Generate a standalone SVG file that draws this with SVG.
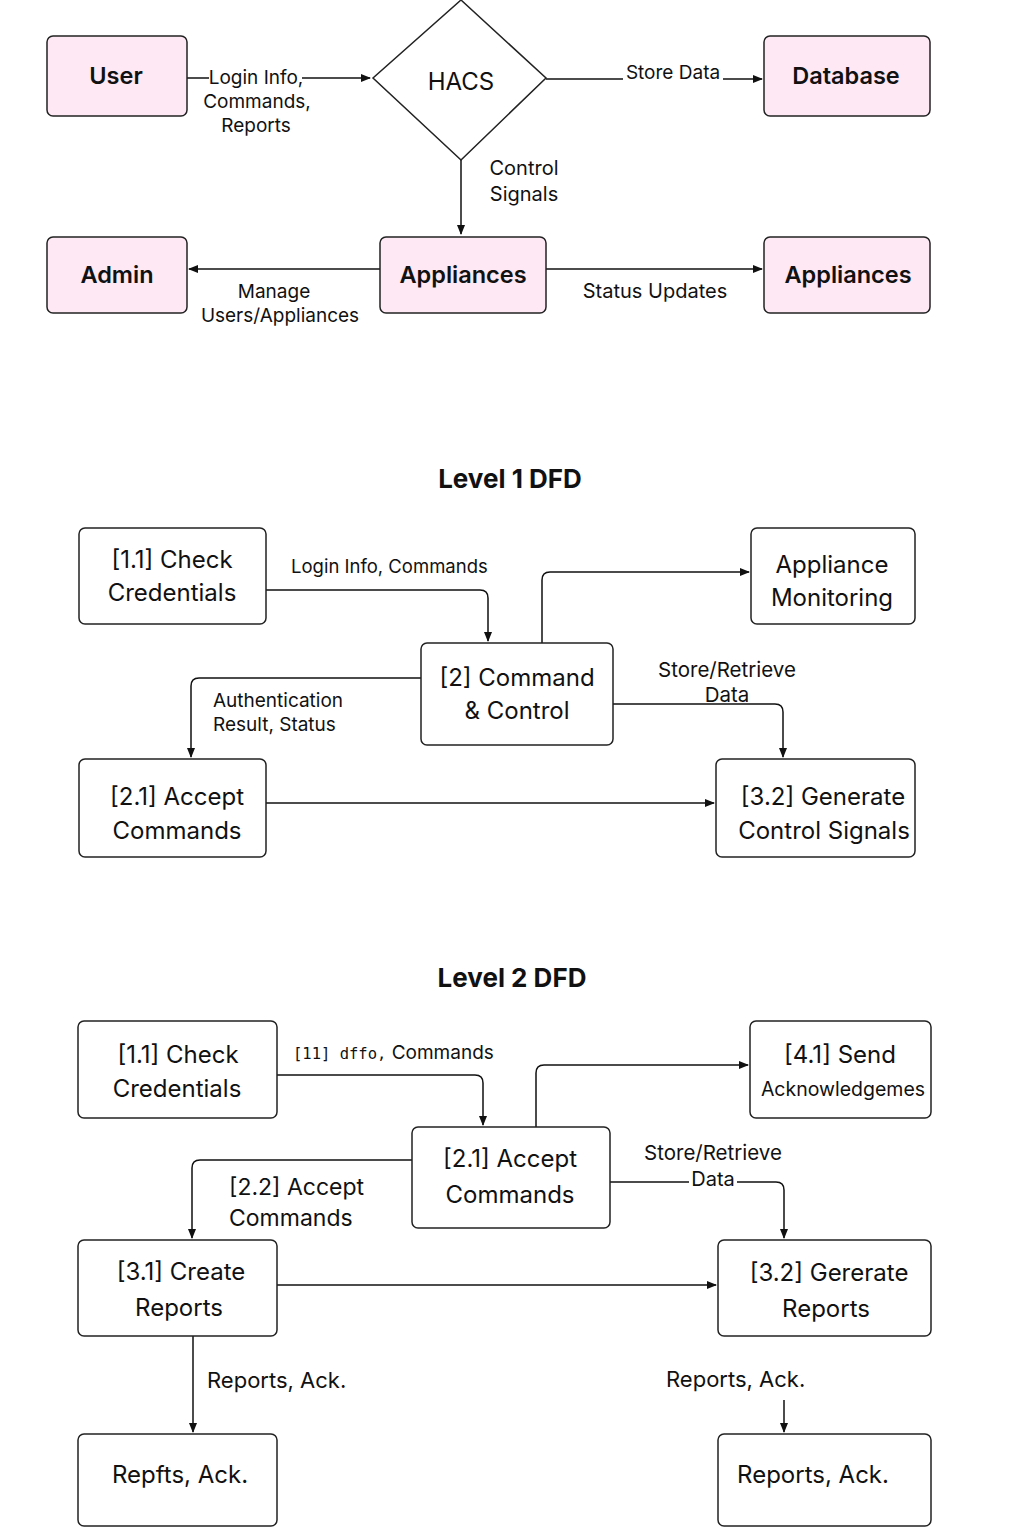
<svg xmlns="http://www.w3.org/2000/svg" width="1024" height="1536" viewBox="0 0 1024 1536">
<defs>
<marker id="arr" viewBox="0 0 10 10" refX="9" refY="5" markerWidth="10" markerHeight="10" markerUnits="userSpaceOnUse" orient="auto">
<path d="M0,1 L10,5 L0,9 Z" fill="#111"/>
</marker>
<style>
.ext{fill:#fde8f3;stroke:#222;stroke-width:1.5}
.proc{fill:#fff;stroke:#222;stroke-width:1.5}
.dia{fill:#fff;stroke:#222;stroke-width:1.5}
.e{fill:none;stroke:#111;stroke-width:1.5}
text{font-family:Inter,"Noto Sans","Liberation Sans",sans-serif;fill:#111}
.nb{font-size:23.5px;font-weight:600;text-anchor:middle}
.nt{font-size:24px;text-anchor:middle}
.lb{font-size:19px}
.lc{font-size:19px;text-anchor:middle}
.mono{font-family:"DejaVu Sans Mono","Liberation Mono",monospace;font-size:15.5px}
.title{font-size:26px;font-weight:700;text-anchor:middle}
.bg{fill:#fff}
</style>
</defs>
<rect width="1024" height="1536" fill="#fff"/>

<g id="connectors">
<line class="e" x1="187" y1="78" x2="370" y2="78" marker-end="url(#arr)"/>
<line class="e" x1="546" y1="79" x2="762" y2="79" marker-end="url(#arr)"/>
<line class="e" x1="461" y1="160" x2="461" y2="234" marker-end="url(#arr)"/>
<line class="e" x1="380" y1="269" x2="189" y2="269" marker-end="url(#arr)"/>
<line class="e" x1="546" y1="269" x2="762" y2="269" marker-end="url(#arr)"/>
<path class="e" d="M266,590 H480 Q488,590 488,598 V641" marker-end="url(#arr)"/>
<path class="e" d="M542,643 V580 Q542,572 550,572 H749" marker-end="url(#arr)"/>
<path class="e" d="M421,678 H199 Q191,678 191,686 V757" marker-end="url(#arr)"/>
<path class="e" d="M613,704 H775 Q783,704 783,712 V757" marker-end="url(#arr)"/>
<line class="e" x1="266" y1="803" x2="714" y2="803" marker-end="url(#arr)"/>
<path class="e" d="M277,1075 H475 Q483,1075 483,1083 V1125" marker-end="url(#arr)"/>
<path class="e" d="M536,1127 V1073 Q536,1065 544,1065 H748" marker-end="url(#arr)"/>
<path class="e" d="M412,1160 H200 Q192,1160 192,1168 V1238" marker-end="url(#arr)"/>
<path class="e" d="M610,1182 H776 Q784,1182 784,1190 V1238" marker-end="url(#arr)"/>
<line class="e" x1="277" y1="1285" x2="716" y2="1285" marker-end="url(#arr)"/>
<line class="e" x1="193" y1="1336" x2="193" y2="1432" marker-end="url(#arr)"/>
<line class="e" x1="784" y1="1400" x2="784" y2="1432" marker-end="url(#arr)"/>

<rect class="bg" x="209" y="68" width="93" height="20"/>
<text class="lc" x="256" y="84">Login Info,</text>
<text class="lc" x="257" y="108">Commands,</text>
<text class="lc" x="256" y="132">Reports</text>
<rect class="bg" x="623" y="62" width="100" height="20"/>
<text class="lc" x="673" y="79">Store Data</text>
<text class="lc" x="524" y="175" style="font-size:20px">Control</text>
<text class="lc" x="524" y="201" style="font-size:20px">Signals</text>
<text class="lc" x="274" y="298">Manage</text>
<text class="lc" x="280" y="322">Users/Appliances</text>
<text class="lc" x="655" y="298" style="font-size:20px">Status Updates</text>

<text class="lb" x="291" y="573" style="font-size:18.5px">Login Info, Commands</text>
<text class="lb" x="213" y="707">Authentication</text>
<text class="lb" x="213" y="731">Result, Status</text>
<text class="lc" x="727" y="677" style="font-size:20.5px">Store/Retrieve</text>
<text class="lc" x="727" y="702" style="font-size:20.5px">Data</text>

<text class="lb" x="293" y="1059"><tspan class="mono">[11] dffo,</tspan><tspan style="font-size:19px"> Commands</tspan></text>
<text class="lb" x="229" y="1195" style="font-size:23px">[2.2] Accept</text>
<text class="lb" x="229" y="1226" style="font-size:23px">Commands</text>
<text class="lc" x="713" y="1160" style="font-size:20.5px">Store/Retrieve</text>
<rect class="bg" x="689" y="1172" width="48" height="18"/>
<text class="lc" x="713" y="1186" style="font-size:20px">Data</text>
<text class="lb" x="207" y="1388" style="font-size:22px">Reports, Ack.</text>
<text class="lb" x="666" y="1387" style="font-size:22px">Reports, Ack.</text>
</g>

<g id="user"><rect class="ext" x="47" y="36" width="140" height="80" rx="6"/><text class="nb" x="116" y="84">User</text></g>
<g id="hacs"><polygon class="dia" points="461,0 546,78 461,160 373,78"/><text class="nt" x="461" y="90">HACS</text></g>
<g id="database"><rect class="ext" x="764" y="36" width="166" height="80" rx="6"/><text class="nb" x="846" y="84">Database</text></g>
<g id="admin"><rect class="ext" x="47" y="237" width="140" height="76" rx="6"/><text class="nb" x="117" y="283">Admin</text></g>
<g id="appliances1"><rect class="ext" x="380" y="237" width="166" height="76" rx="6"/><text class="nb" x="463" y="283">Appliances</text></g>
<g id="appliances2"><rect class="ext" x="764" y="237" width="166" height="76" rx="6"/><text class="nb" x="848" y="283">Appliances</text></g>

<text class="title" x="510" y="488">Level 1 DFD</text>

<g id="l1-check"><rect class="proc" x="79" y="528" width="187" height="96" rx="6"/><text class="nt" x="172" y="568">[1.1] Check</text><text class="nt" x="172" y="601">Credentials</text></g>
<g id="l1-monitor"><rect class="proc" x="751" y="528" width="164" height="96" rx="6"/><text class="nt" x="832" y="573">Appliance</text><text class="nt" x="832" y="606">Monitoring</text></g>
<g id="l1-cc"><rect class="proc" x="421" y="643" width="192" height="102" rx="6"/><text class="nt" x="517" y="686">[2] Command</text><text class="nt" x="517" y="719">&amp; Control</text></g>
<g id="l1-accept"><rect class="proc" x="79" y="759" width="187" height="98" rx="6"/><text class="nt" x="177" y="805">[2.1] Accept</text><text class="nt" x="177" y="839">Commands</text></g>
<g id="l1-generate"><rect class="proc" x="716" y="759" width="199" height="98" rx="6"/><text class="nt" x="823" y="805">[3.2] Generate</text><text class="nt" x="824" y="839">Control Signals</text></g>

<text class="title" x="512" y="987">Level 2 DFD</text>

<g id="l2-check"><rect class="proc" x="78" y="1021" width="199" height="97" rx="6"/><text class="nt" x="178" y="1063">[1.1] Check</text><text class="nt" x="177" y="1097">Credentials</text></g>
<g id="l2-send"><rect class="proc" x="750" y="1021" width="181" height="97" rx="6"/><text class="nt" x="840" y="1063">[4.1] Send</text><text class="nt" x="843" y="1096" style="font-size:19.5px">Acknowledgemes</text></g>
<g id="l2-accept"><rect class="proc" x="412" y="1127" width="198" height="101" rx="6"/><text class="nt" x="510" y="1167">[2.1] Accept</text><text class="nt" x="510" y="1203">Commands</text></g>
<g id="l2-create"><rect class="proc" x="78" y="1240" width="199" height="96" rx="6"/><text class="nt" x="181" y="1280">[3.1] Create</text><text class="nt" x="179" y="1316">Reports</text></g>
<g id="l2-gererate"><rect class="proc" x="718" y="1240" width="213" height="96" rx="6"/><text class="nt" x="829" y="1281">[3.2] Gererate</text><text class="nt" x="826" y="1317">Reports</text></g>
<g id="l2-repfts"><rect class="proc" x="78" y="1434" width="199" height="92" rx="6"/><text class="nt" x="180" y="1483">Repfts, Ack.</text></g>
<g id="l2-reports"><rect class="proc" x="718" y="1434" width="213" height="92" rx="6"/><text class="nt" x="813" y="1483">Reports, Ack.</text></g>
</svg>
